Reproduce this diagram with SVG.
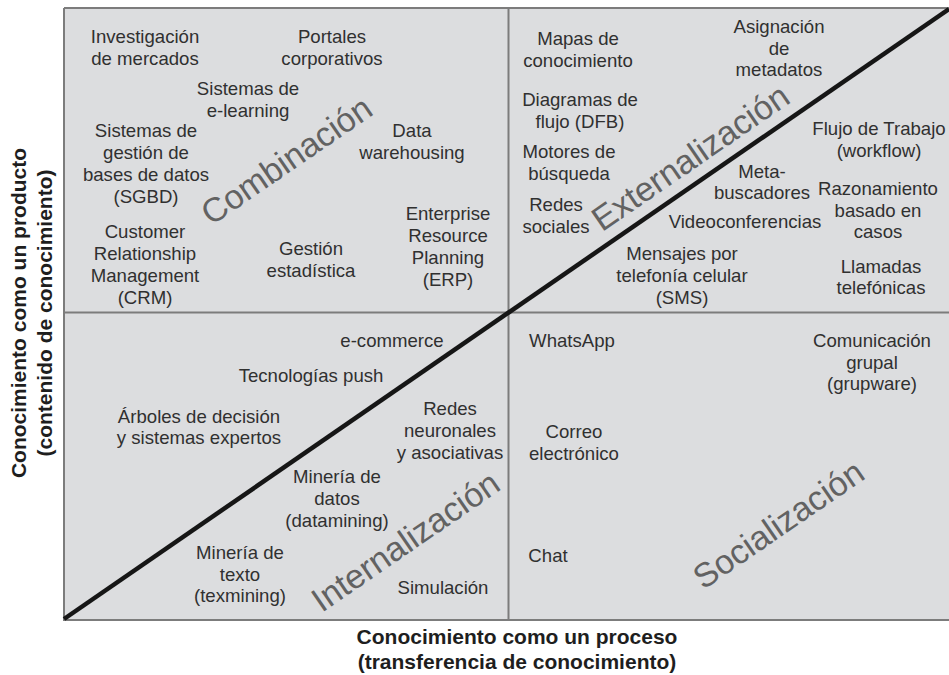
<svg xmlns="http://www.w3.org/2000/svg" width="949" height="675" viewBox="0 0 949 675">
  <style>
    .item { font-family: "Liberation Sans", Arial, sans-serif; font-size: 18.6px; fill: #303030; text-anchor: middle; }
    .mode { font-family: "Liberation Sans", Arial, sans-serif; font-size: 34px; fill: #626262; text-anchor: middle; }
    .axis { font-family: "Liberation Sans", Arial, sans-serif; font-size: 21px; font-weight: bold; fill: #1e1e1e; text-anchor: middle; }
    .grid { stroke: #7c7c7c; stroke-width: 2; fill: none; }
  </style>

  <rect width="949" height="675" fill="#ffffff"/>

  <!-- quadrant field -->
  <g id="field">
    <rect x="64" y="8" width="885" height="612" fill="#dcdddf"/>
    <path class="grid" d="M64 8 H949 M64 8 V620 H949 M508.5 8 V620 M64 312.5 H949"/>
  </g>

  <!-- diagonal divider -->
  <g id="connectors">
    <line x1="64" y1="619" x2="949" y2="9" stroke="#161616" stroke-width="4.5" stroke-linecap="butt"/>
  </g>

  <!-- mode labels -->
  <g id="mode-combinacion"><text class="mode" transform="translate(293 170) rotate(-34.5)">Combinación</text></g>
  <g id="mode-externalizacion"><text class="mode" transform="translate(697 167) rotate(-34.5)">Externalización</text></g>
  <g id="mode-internalizacion"><text class="mode" transform="translate(412 551) rotate(-34.5)">Internalización</text></g>
  <g id="mode-socializacion"><text class="mode" transform="translate(785 534) rotate(-34.5)">Socialización</text></g>

  <!-- Combinación quadrant -->
  <g id="investigacion"><text class="item" x="145" y="43">Investigación<tspan x="145" dy="21.6">de mercados</tspan></text></g>
  <g id="portales"><text class="item" x="332" y="43">Portales<tspan x="332" dy="21.6">corporativos</tspan></text></g>
  <g id="elearning"><text class="item" x="248" y="95">Sistemas de<tspan x="248" dy="21.6">e-learning</tspan></text></g>
  <g id="sgbd"><text class="item" x="146" y="137">Sistemas de<tspan x="146" dy="22">gestión de</tspan><tspan x="146" dy="22">bases de datos</tspan><tspan x="146" dy="22">(SGBD)</tspan></text></g>
  <g id="datawarehousing"><text class="item" x="412" y="137">Data<tspan x="412" dy="21.6">warehousing</tspan></text></g>
  <g id="crm"><text class="item" x="145" y="238">Customer<tspan x="145" dy="22">Relationship</tspan><tspan x="145" dy="22">Management</tspan><tspan x="145" dy="22">(CRM)</tspan></text></g>
  <g id="gestion-estadistica"><text class="item" x="311" y="255">Gestión<tspan x="311" dy="21.6">estadística</tspan></text></g>
  <g id="erp"><text class="item" x="448" y="220">Enterprise<tspan x="448" dy="22">Resource</tspan><tspan x="448" dy="22">Planning</tspan><tspan x="448" dy="22">(ERP)</tspan></text></g>

  <!-- Externalización quadrant -->
  <g id="mapas"><text class="item" x="578" y="45">Mapas de<tspan x="578" dy="21.6">conocimiento</tspan></text></g>
  <g id="metadatos"><text class="item" x="779" y="33">Asignación<tspan x="779" dy="21.6">de</tspan><tspan x="779" dy="21.6">metadatos</tspan></text></g>
  <g id="diagramas"><text class="item" x="580" y="106">Diagramas de<tspan x="580" dy="21.6">flujo (DFB)</tspan></text></g>
  <g id="motores"><text class="item" x="569" y="158">Motores de<tspan x="569" dy="21.6">búsqueda</tspan></text></g>
  <g id="redes-sociales"><text class="item" x="556" y="211">Redes<tspan x="556" dy="21.6">sociales</tspan></text></g>
  <g id="workflow"><text class="item" x="879" y="135">Flujo de Trabajo<tspan x="879" dy="21.6">(workflow)</tspan></text></g>
  <g id="metabuscadores"><text class="item" x="762" y="178">Meta-<tspan x="762" dy="21.2">buscadores</tspan></text></g>
  <g id="razonamiento"><text class="item" x="878" y="195">Razonamiento<tspan x="878" dy="21.6">basado en</tspan><tspan x="878" dy="21.6">casos</tspan></text></g>
  <g id="videoconferencias"><text class="item" x="745" y="228">Videoconferencias</text></g>
  <g id="sms"><text class="item" x="682" y="260">Mensajes por<tspan x="682" dy="22">telefonía celular</tspan><tspan x="682" dy="22">(SMS)</tspan></text></g>
  <g id="llamadas"><text class="item" x="881" y="273">Llamadas<tspan x="881" dy="21.4">telefónicas</tspan></text></g>

  <!-- Internalización quadrant -->
  <g id="ecommerce"><text class="item" x="392" y="347">e-commerce</text></g>
  <g id="push"><text class="item" x="311" y="382">Tecnologías push</text></g>
  <g id="arboles"><text class="item" x="199" y="423">Árboles de decisión<tspan x="199" dy="21">y sistemas expertos</tspan></text></g>
  <g id="redes-neuronales"><text class="item" x="450" y="415">Redes<tspan x="450" dy="22">neuronales</tspan><tspan x="450" dy="22">y asociativas</tspan></text></g>
  <g id="datamining"><text class="item" x="337" y="483">Minería de<tspan x="337" dy="22">datos</tspan><tspan x="337" dy="22">(datamining)</tspan></text></g>
  <g id="texmining"><text class="item" x="240" y="559">Minería de<tspan x="240" dy="21.7">texto</tspan><tspan x="240" dy="21.7">(texmining)</tspan></text></g>
  <g id="simulacion"><text class="item" x="443" y="594">Simulación</text></g>

  <!-- Socialización quadrant -->
  <g id="whatsapp"><text class="item" x="572" y="347">WhatsApp</text></g>
  <g id="grupware"><text class="item" x="872" y="347">Comunicación<tspan x="872" dy="21.7">grupal</tspan><tspan x="872" dy="21.7">(grupware)</tspan></text></g>
  <g id="correo"><text class="item" x="574" y="438">Correo<tspan x="574" dy="21.7">electrónico</tspan></text></g>
  <g id="chat"><text class="item" x="548" y="562">Chat</text></g>

  <!-- axis titles -->
  <g id="axis-y">
    <text class="axis" transform="translate(26 313) rotate(-90)">Conocimiento como un producto</text>
    <text class="axis" transform="translate(52 313) rotate(-90)">(contenido de conocimiento)</text>
  </g>
  <g id="axis-x">
    <text class="axis" x="517" y="644">Conocimiento como un proceso</text>
    <text class="axis" x="517" y="669">(transferencia de conocimiento)</text>
  </g>
</svg>
